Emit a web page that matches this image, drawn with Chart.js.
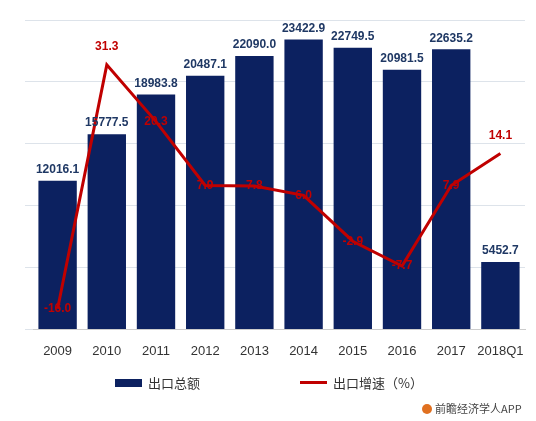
<!DOCTYPE html><html><head><meta charset="utf-8">
<script src="https://cdn.jsdelivr.net/npm/chart.js@4"></script>
<style>body{margin:0;background:#fff}#w{width:536px;height:421px}</style></head><body>
<div id="w"><canvas id="c"></canvas></div>
<script>
const categories=['2009','2010','2011','2012','2013','2014','2015','2016','2017','2018Q1'];
const exportTotal=[12016.1,15777.5,18983.8,20487.1,22090.0,23422.9,22749.5,20981.5,22635.2,5452.7];
const exportGrowth=[-16.0,31.3,20.3,7.9,7.8,6.0,-2.9,-7.7,7.9,14.1];
const NAVY='#0c2160',RED='#c00000';
const labelsPlugin={id:'lbl',afterDatasetsDraw(ch){
 const ctx=ch.ctx;ctx.save();ctx.textAlign='center';
 ctx.font='bold 12px Arial, "Liberation Sans"';
 ch.getDatasetMeta(1).data.forEach((b,i)=>{ctx.fillStyle='#1f3864';ctx.textBaseline='bottom';ctx.fillText(exportTotal[i].toFixed(1),b.x,b.y-5);});
 ch.getDatasetMeta(0).data.forEach((p,i)=>{ctx.fillStyle=RED;ctx.textBaseline='middle';
  let dy=(i==1||i==9)?-18:0; ctx.fillText(exportGrowth[i].toFixed(1),p.x,p.y+dy);});
 ctx.textBaseline='middle';ctx.textAlign='left';ctx.font='13px "Noto Sans CJK SC"';
 ctx.fillStyle=NAVY;ctx.fillRect(115,379,27,8);ctx.fillStyle='#333';ctx.fillText('出口总额',148,383);
 ctx.fillStyle=RED;ctx.fillRect(300,381,27,3);ctx.fillStyle='#333';ctx.fillText('出口增速（%）',333,383);
 ctx.font='11px "Noto Sans CJK SC"';ctx.fillStyle='#444';ctx.fillText('前瞻经济学人APP',435,409);
 ctx.beginPath();ctx.arc(427,409,5,0,7);ctx.fillStyle='#e07020';ctx.fill();
 ctx.restore();}};
new Chart(document.getElementById('c'),{
 data:{labels:categories,datasets:[
  {type:'line',label:'出口增速（%）',data:exportGrowth,yAxisID:'y1',borderColor:RED,borderWidth:3,pointRadius:0,tension:0,order:0},
  {type:'bar',label:'出口总额',data:exportTotal,yAxisID:'y',backgroundColor:NAVY,categoryPercentage:1,barPercentage:0.78,order:1}]},
 options:{responsive:true,maintainAspectRatio:false,animation:false,
  layout:{padding:{left:25,right:11,top:20,bottom:56}},
  plugins:{legend:{display:false},tooltip:{enabled:false}},
  scales:{
   x:{grid:{display:false},border:{color:'#ccc'},ticks:{color:'#333',font:{size:13,family:'Arial'},padding:6,maxRotation:0,minRotation:0,autoSkip:false}},
   y:{min:0,max:25000,ticks:{display:false,stepSize:5000},grid:{color:'#dde3ea'},border:{display:false}},
   y1:{position:'right',min:-20,max:40,display:false}}},
 plugins:[labelsPlugin]});
</script></body></html>
